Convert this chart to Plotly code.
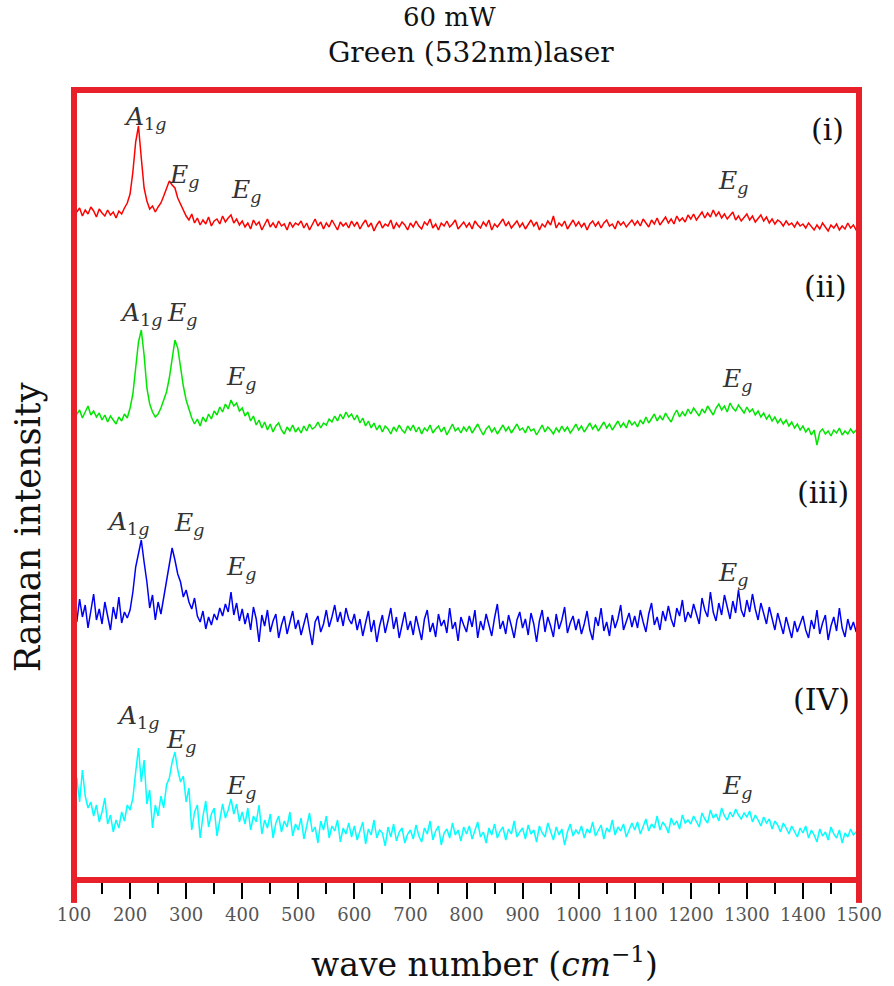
import plotly.graph_objects as go

# wave numbers (cm^-1), sampled every 5 cm^-1
wavenumber = list(range(100, 1501, 5))

# Raman intensity (arbitrary units), spectra stacked with offsets
spec_i = [
    695, 688, 692, 684, 690, 686, 693, 689, 683, 691, 687, 684, 690, 685, 688, 682, 689, 686, 692, 697,
    706, 728, 758, 774, 742, 712, 699, 691, 694, 688, 693, 697, 704, 711, 719, 715, 712, 702, 696, 689,
    684, 680, 686, 677, 682, 675, 680, 676, 683, 674, 679, 681, 676, 684, 678, 682, 685, 677, 681, 675,
    679, 673, 677, 671, 680, 675, 678, 670, 676, 681, 673, 677, 672, 679, 674, 676, 670, 678, 673, 677,
    675, 679, 672, 677, 670, 676, 681, 674, 678, 671, 677, 673, 680, 675, 670, 678, 674, 677, 672, 679,
    674, 678, 671, 676, 680, 673, 677, 669, 675, 679, 672, 676, 674, 680, 671, 677, 673, 678, 675, 670,
    677, 673, 679, 674, 671, 678, 675, 681, 672, 676, 670, 677, 674, 679, 673, 676, 680, 671, 675, 678,
    673, 677, 671, 679, 675, 672, 678, 674, 680, 670, 676, 673, 677, 681, 674, 678, 672, 676, 679, 673,
    677, 671, 675, 680, 674, 678, 670, 676, 673, 679, 675, 684, 672, 677, 674, 679, 671, 676, 680, 674,
    678, 673, 677, 670, 676, 679, 674, 678, 672, 677, 680, 674, 676, 671, 679, 675, 678, 673, 677, 680,
    675, 679, 674, 681, 677, 673, 680, 676, 682, 675, 679, 683, 677, 681, 676, 684, 679, 682, 678, 685,
    681, 686, 680, 684, 688, 682, 687, 683, 690, 684, 688, 682, 686, 681, 685, 688, 680, 684, 679, 683,
    686, 680, 684, 678, 682, 685, 679, 683, 677, 681, 676, 680, 678, 674, 679, 675, 677, 673, 678, 674,
    676, 672, 677, 673, 670, 675, 671, 677, 673, 669, 675, 672, 676, 670, 674, 671, 677, 672, 675, 670,
    674,
]
spec_ii = [
    493, 486, 490, 482, 488, 494, 485, 489, 483, 487, 480, 485, 478, 484, 480, 476, 483, 479, 486, 482,
    492, 506, 532, 558, 570, 545, 512, 496, 488, 483, 486, 492, 500, 508, 522, 542, 560, 552, 532, 514,
    500, 490, 482, 476, 481, 474, 483, 478, 486, 481, 489, 485, 493, 488, 496, 491, 500, 494, 497, 489,
    492, 484, 488, 479, 484, 475, 480, 472, 478, 470, 476, 468, 474, 477, 470, 466, 473, 469, 475, 468,
    472, 467, 474, 469, 476, 471, 473, 478, 472, 477, 475, 481, 478, 484, 479, 486, 481, 488, 483, 486,
    480, 485, 477, 482, 474, 479, 472, 477, 470, 475, 468, 474, 471, 466, 473, 469, 475, 470, 467, 474,
    470, 475, 468, 473, 466, 472, 469, 475, 467, 471, 474, 468, 473, 465, 470, 476, 469, 472, 467, 473,
    469, 474, 467, 472, 476, 470, 465, 471, 474, 468, 472, 466, 470, 475, 469, 473, 467, 471, 476, 470,
    472, 467, 474, 469, 471, 465, 470, 475, 468, 473, 470, 466, 472, 468, 474, 469, 473, 467, 471, 476,
    470, 474, 468, 473, 477, 471, 475, 469, 474, 478, 472, 476, 470, 475, 479, 473, 477, 472, 480, 475,
    478, 473, 480, 476, 483, 477, 481, 486, 479, 484, 480, 487, 482, 478, 485, 490, 483, 488, 484, 491,
    486, 492, 488, 484, 491, 487, 494, 489, 485, 492, 496, 490, 494, 488, 497, 492, 489, 495, 491, 487,
    493, 488, 491, 485, 489, 483, 487, 481, 485, 479, 483, 477, 481, 476, 480, 474, 478, 472, 476, 470,
    474, 468, 472, 465, 470, 455, 468, 471, 466, 469, 464, 470, 467, 472, 465, 469, 466, 471, 467, 470,
    468,
]
spec_iii = [
    292, 278, 301, 283, 295, 272, 289, 306, 280, 291, 276, 298, 284, 270, 293, 281, 303, 277, 288, 282,
    290, 308, 333, 345, 360, 338, 318, 292, 305, 280, 298, 286, 302, 318, 332, 352, 340, 326, 318, 303,
    310, 298, 291, 302, 284, 278, 289, 271, 283, 275, 286, 280, 292, 284, 296, 288, 308, 285, 297, 279,
    291, 276, 287, 270, 293, 281, 258, 285, 274, 290, 268, 279, 286, 262, 275, 284, 266, 278, 289, 271,
    280, 265, 276, 287, 270, 255, 278, 284, 268, 276, 290, 273, 283, 295, 278, 288, 274, 292, 281, 276,
    286, 270, 281, 264, 277, 289, 268, 280, 258, 274, 285, 267, 279, 292, 271, 283, 262, 276, 288, 270,
    279, 265, 284, 272, 260, 281, 290, 268, 277, 263, 286, 274, 280, 267, 292, 271, 278, 259, 283, 275,
    268, 284, 273, 290, 262, 279, 270, 286, 275, 264, 282, 296, 271, 279, 266, 285, 274, 262, 280, 288,
    272, 281, 265, 287, 276, 258, 279, 290, 268, 283, 274, 263, 286, 271, 280, 293, 267, 277, 284, 270,
    281, 266, 276, 289, 270, 260, 283, 274, 292, 269, 278, 264, 285, 272, 281, 295, 270, 279, 287, 273,
    284, 272, 290, 278, 268, 286, 297, 275, 283, 270, 289, 279, 294, 281, 273, 292, 284, 300, 278, 288,
    282, 296, 287, 276, 302, 290, 283, 308, 288, 279, 297, 285, 305, 292, 281, 299, 287, 310, 290, 283,
    300, 288, 306, 291, 280, 297, 285, 276, 293, 281, 270, 287, 276, 266, 283, 272, 262, 279, 268, 276,
    284, 270, 262, 280, 271, 290, 266, 277, 285, 260, 274, 283, 269, 292, 272, 263, 281, 270, 278, 268,
    275,
]
spec_iv = [
    108, 122, 98, 130, 104, 92, 98, 84, 95, 78, 88, 102, 76, 85, 68, 80, 72, 88, 79, 95,
    90, 102, 128, 152, 118, 140, 96, 110, 72, 95, 84, 104, 92, 115, 122, 138, 148, 130, 118, 124,
    98, 112, 70, 88, 95, 62, 84, 99, 73, 86, 92, 64, 80, 96, 82, 90, 101, 86, 96, 78,
    88, 76, 92, 70, 84, 78, 95, 66, 80, 72, 86, 62, 77, 84, 68, 79, 73, 88, 64, 76,
    70, 82, 61, 75, 87, 68, 73, 57, 79, 70, 84, 62, 74, 69, 80, 58, 72, 66, 77, 63,
    74, 60, 69, 78, 56, 71, 65, 80, 62, 70, 67, 54, 73, 63, 76, 59, 68, 72, 57, 66,
    70, 61, 75, 64, 58, 72, 66, 79, 60, 69, 74, 55, 67, 71, 62, 77, 65, 70, 59, 73,
    66, 74, 61, 70, 78, 63, 68, 57, 72, 65, 76, 62, 69, 73, 60, 71, 66, 79, 63, 68,
    72, 61, 75, 66, 70, 58, 74, 67, 63, 77, 69, 60, 73, 65, 71, 55, 68, 76, 64, 70,
    66, 74, 62, 71, 67, 78, 64, 70, 75, 61, 72, 68, 80, 65, 73, 69, 76, 63, 71, 77,
    70, 78, 66, 74, 81, 69, 76, 72, 84, 70, 78, 74, 67, 82, 75, 79, 71, 85, 77, 80,
    76, 84, 79, 73, 87, 81, 77, 90, 82, 86, 79, 92, 84, 80, 88, 83, 91, 85, 81, 87,
    83, 89, 78, 85, 80, 74, 83, 77, 81, 71, 79, 75, 68, 77, 72, 66, 74, 69, 63, 72,
    67, 74, 62, 70, 65, 58, 71, 64, 68, 60, 73, 66, 62, 70, 57, 67, 63, 71, 65, 68,
    64,
]

series_names = ["(i)", "(ii)", "(iii)", "(IV)"]
series_colors = ["#ff0000", "#00e600", "#0000f5", "#00ffff"]
series_values = [spec_i, spec_ii, spec_iii, spec_iv]

# series labels (x in cm^-1, y in intensity units)
label_x = [1443, 1441, 1436, 1433]
label_y = [771, 614, 408, 201]

# mode labels
A1G = "<i>A</i><sub>1<i>g</i></sub>"
EG = "<i>E</i><sub><i>g</i></sub>"
mode_text = [A1G, EG, EG, EG] * 4
mode_x = [227, 296, 406, 1275,
          220, 293, 397, 1282,
          197, 305, 397, 1275,
          215, 291, 397, 1282]
mode_y = [782, 724, 709, 718,
          586, 586, 522, 520,
          377, 376, 332, 326,
          183, 159, 113, 113]

for vals in series_values:
    assert len(vals) == len(wavenumber), len(vals)

fig = go.Figure()
for name, col, vals in zip(series_names, series_colors, series_values):
    fig.add_trace(go.Scatter(x=wavenumber, y=vals, mode="lines", name=name,
                             line=dict(color=col, width=1.5), showlegend=False))

SERIF = "DejaVu Serif"
FRAME = "#e8202a"

fig.update_layout(
    width=894, height=986,
    margin=dict(l=74, r=30, t=90, b=106),
    paper_bgcolor="white", plot_bgcolor="white",
    xaxis=dict(range=[100, 1500], tick0=100, dtick=100, ticks="outside",
               ticklen=18, tickwidth=2, tickcolor="black",
               tickfont=dict(family=SERIF, size=18, color="#555"),
               showgrid=False, zeroline=False, showline=False,
               minor=dict(tick0=50, dtick=50, ticks="outside", ticklen=13,
                          tickwidth=2, tickcolor="black", showgrid=False)),
    yaxis=dict(range=[20, 810], showticklabels=False, ticks="", showgrid=False,
               zeroline=False, showline=False),
)

# red frame
fig.add_shape(type="rect", xref="paper", yref="paper", x0=0, x1=1, y0=0, y1=1,
              line=dict(color=FRAME, width=6), layer="above")
for xp in (0, 1):
    fig.add_shape(type="line", xref="paper", yref="paper", x0=xp, x1=xp, y0=-0.029, y1=0,
                  line=dict(color=FRAME, width=6), layer="above")

# titles
paper_txt = dict(xref="paper", yref="paper", showarrow=False, xanchor="center",
                 yanchor="middle", borderpad=0)
fig.add_annotation(text="60 mW", x=0.478, y=1.0924,
                   font=dict(family=SERIF, size=26, color="#111"), **paper_txt)
fig.add_annotation(text="Green (532nm)laser", x=0.506, y=1.0481,
                   font=dict(family=SERIF, size=28, color="#111"), **paper_txt)
fig.add_annotation(text="wave number (<i>cm</i><sup>\u22121</sup>)", x=0.523, y=-0.1038,
                   font=dict(family=SERIF, size=33, color="#111"), **paper_txt)
fig.add_annotation(text="Raman intensity", x=-0.0582, y=0.4468, textangle=-90,
                   font=dict(family=SERIF, size=35, color="#111"), **paper_txt)

for t, xv, yv in zip(series_names, label_x, label_y):
    fig.add_annotation(text=t, x=xv, y=yv, showarrow=False,
                       font=dict(family=SERIF, size=30, color="#111"))

for t, xv, yv in zip(mode_text, mode_x, mode_y):
    fig.add_annotation(text=t, x=xv, y=yv, showarrow=False,
                       font=dict(family=SERIF, size=25, color="#333"))

fig.write_html("out.html", config={"displayModeBar": False},
               post_script="document.body.style.margin='0px';")
